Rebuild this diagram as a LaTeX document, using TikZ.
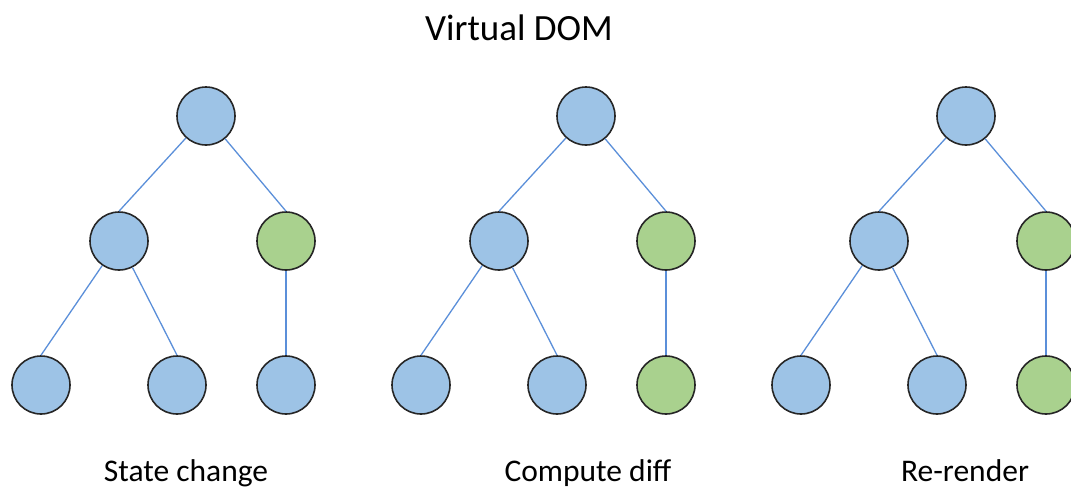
\documentclass[tikz,border=0pt]{standalone}
\usepackage{fontspec}
\setmainfont{Carlito}
\definecolor{nodeblue}{HTML}{9DC3E6}
\definecolor{nodegreen}{HTML}{A9D18E}
\definecolor{edgeblue}{HTML}{5B8FD9}
\definecolor{rim}{HTML}{262626}
\tikzset{
  vnode/.style={circle, draw=rim, line width=1.6pt, minimum size=58pt, inner sep=0pt},
  plain/.style={vnode, fill=nodeblue},
  changed/.style={vnode, fill=nodegreen},
  link/.style={draw=edgeblue, line width=1.3pt},
  caption/.style={anchor=base, font=\fontsize{31.5}{38}\selectfont},
  heading/.style={anchor=base, font=\fontsize{37}{44}\selectfont}
}
\begin{document}
\begin{tikzpicture}[x=1pt,y=-1pt]
\useasboundingbox (0,0) rectangle (1071,488);
\clip (0,0) rectangle (1071,488);
\node[heading] (title) at (519,40) {Virtual DOM};

% three copies of the same tree, shifted horizontally
\foreach \dx/\t/\lg in {0/a/plain, 380/b/changed, 760/c/changed}{
  \begin{scope}[xshift=\dx]
    \node[plain]   (\t root) at (206,116) {};
    \node[plain]   (\t ml)   at (119,241) {};
    \node[changed] (\t mr)   at (286,241) {};
    \node[plain]   (\t l1)   at (41,385)  {};
    \node[plain]   (\t l2)   at (177,385) {};
    \node[\lg]     (\t l3)   at (286,385) {};
    \draw[link] (\t root) -- (\t ml.north);
    \draw[link] (\t root) -- (\t mr.north);
    \draw[link] (\t ml) -- (\t l1.north);
    \draw[link] (\t ml) -- (\t l2.north);
    \draw[link] (\t mr) -- (\t l3.north);
  \end{scope}
}
\node[caption] (acap) at (186,481) {State change};
\node[caption] (bcap) at (588,481) {Compute diff};
\node[caption] (ccap) at (965,481) {Re-render};
\end{tikzpicture}
\end{document}
